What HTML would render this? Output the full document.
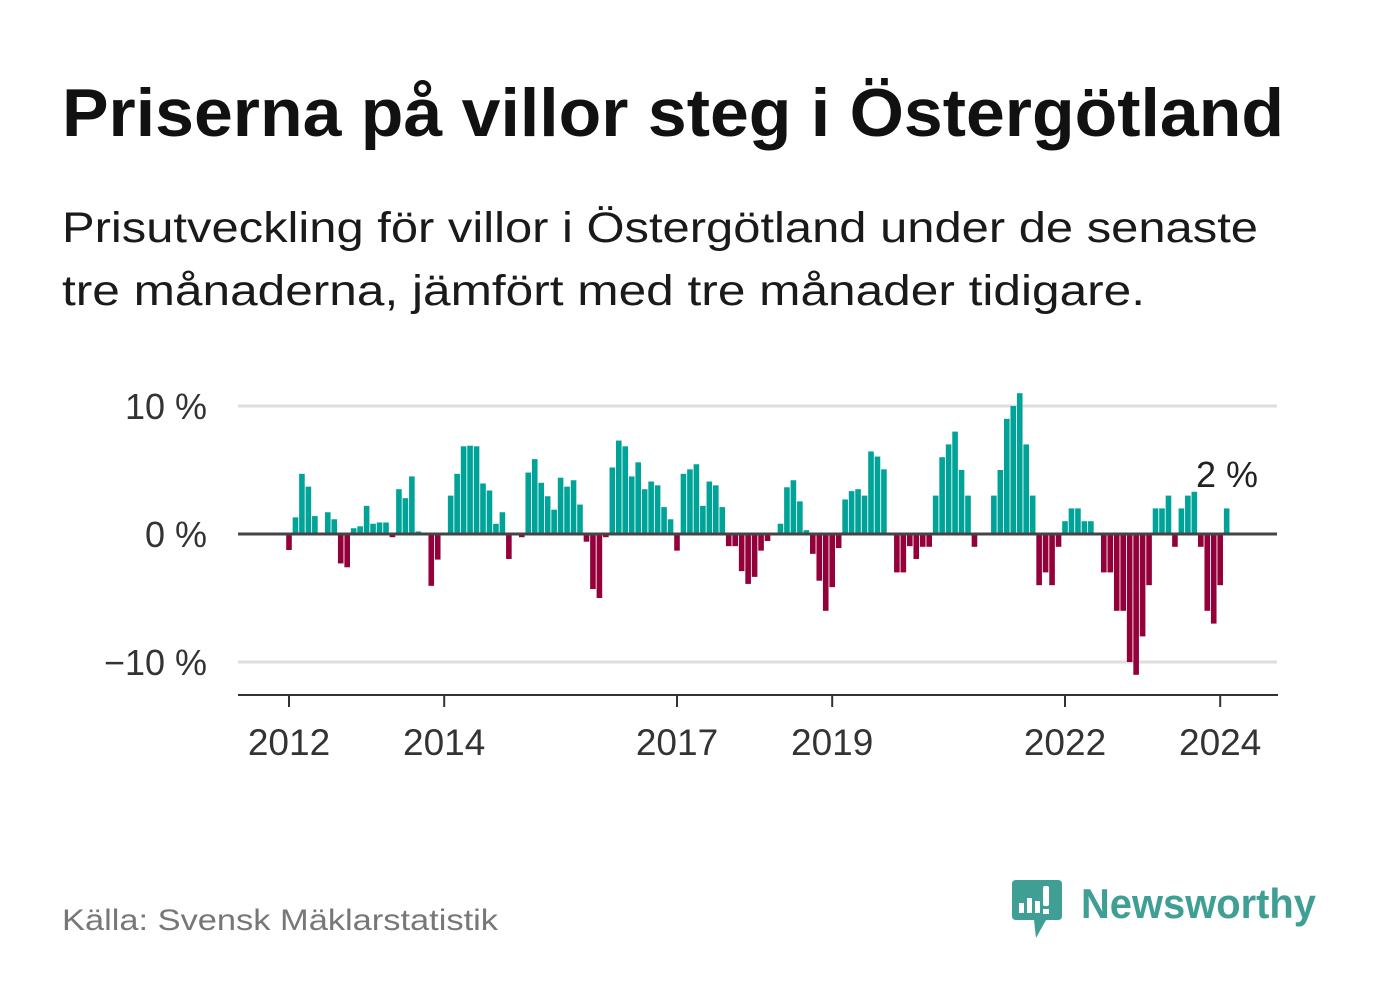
<!DOCTYPE html>
<html><head><meta charset="utf-8"><style>
html,body{margin:0;padding:0;background:#fff;}
svg{display:block;font-family:"Liberation Sans",sans-serif;}
</style></head><body>
<svg id="chart" width="1382" height="999" viewBox="0 0 1382 999">
<text x="62" y="136" font-size="68" font-weight="bold" fill="#111" textLength="1222" lengthAdjust="spacingAndGlyphs">Priserna på villor steg i Östergötland</text>
<text x="62" y="242" font-size="43" fill="#1a1a1a" textLength="1196" lengthAdjust="spacingAndGlyphs">Prisutveckling för villor i Östergötland under de senaste</text>
<text x="62" y="305" font-size="43" fill="#1a1a1a" textLength="1083" lengthAdjust="spacingAndGlyphs">tre månaderna, jämfört med tre månader tidigare.</text>
<g id="grid"></g>
<g id="bars"></g>
<g id="axes"></g>
<text x="1227" y="487" font-size="36" fill="#222" text-anchor="middle">2 %</text>
<text x="62" y="930" font-size="30" fill="#777" textLength="436" lengthAdjust="spacingAndGlyphs">Källa: Svensk Mäklarstatistik</text>
<g>
<path d="M1016 880 H1058 Q1062 880 1062 884 V916 Q1062 920 1058 920 H1046 L1036 938 L1034 920 H1016 Q1012 920 1012 916 V884 Q1012 880 1016 880 Z" fill="#3f9f95"/>
<rect x="1019" y="903" width="5" height="10" fill="#fff"/>
<rect x="1027" y="898" width="5" height="15" fill="#fff"/>
<rect x="1035" y="901" width="5" height="12" fill="#fff"/>
<rect x="1043" y="886" width="6" height="20" rx="2" fill="#fff"/>
<rect x="1043" y="909" width="6" height="5" fill="#fff"/>
<text x="1081" y="918" font-size="42" font-weight="bold" fill="#3f9f95" textLength="235" lengthAdjust="spacingAndGlyphs">Newsworthy</text>
</g>
</svg>
<script>
const values = [-1.25,1.3,4.7,3.7,1.4,0,1.7,1.15,-2.3,-2.6,0.45,0.6,2.2,0.8,0.9,0.9,-0.25,3.5,2.8,4.5,0.2,0,-4.05,-2.0,0,3.0,4.7,6.85,6.9,6.85,3.95,3.4,0.8,1.7,-1.95,0,-0.25,4.8,5.85,4.0,2.95,1.9,4.4,3.7,4.2,2.3,-0.6,-4.3,-5.0,-0.25,5.2,7.3,6.85,4.5,5.6,3.5,4.1,3.8,2.1,1.15,-1.3,4.7,5.05,5.45,2.2,4.1,3.8,2.1,-0.95,-0.95,-2.9,-3.9,-3.35,-1.3,-0.55,0,0.8,3.65,4.2,2.55,0.3,-1.55,-3.65,-6.0,-4.15,-1.1,2.7,3.35,3.5,3.0,6.45,6.05,5.05,0,-3,-3,-0.95,-1.95,-1,-1,3,6,7,8,5,3,-1,0,0,3,5,9,10,11,7,3,-4,-3,-4,-1,1,2,2,1,1,0,-3,-3,-6,-6,-10,-11,-8,-4,2,2,3,-1,2,3,3.3,-1,-6,-7,-4,2];
const startYear = 2012;
const yTicks = [10, 0, -10];
const yTickLabels = ["10 %", "0 %", "\u221210 %"];
const xTicks = [2012, 2014, 2017, 2019, 2022, 2024];
const xTickLabels = ["2012", "2014", "2017", "2019", "2022", "2024"];

const NS = "http://www.w3.org/2000/svg";
function x(year){ return 289 + (year - 2012) * 77.6; }
function y(v){ return 534 - v * 12.8; }
function mk(tag, attrs, parent){ const e = document.createElementNS(NS, tag); for (const k in attrs) e.setAttribute(k, attrs[k]); parent.appendChild(e); return e; }

const grid = document.getElementById('grid');
const bars = document.getElementById('bars');
const axes = document.getElementById('axes');

yTicks.forEach((t, i) => {
  if (t !== 0) {
    const l = mk('line', {x1:238, x2:1277, y1:y(t), y2:y(t), stroke:'#dedede', 'stroke-width':3}, grid);
    
    
  }
  const tx = mk('text', {x:207, y:y(t)+13, 'font-size':36, fill:'#333', 'text-anchor':'end'}, axes);
  tx.textContent = yTickLabels[i];
  
  
});

values.forEach((v, i) => {
  if (v === 0) return;
  const cx = x(startYear + i / 12);
  const top = v > 0 ? y(v) : y(0);
  const h = Math.abs(y(v) - y(0));
  const r = mk('rect', {x:cx - 2.8, y:top, width:5.6, height:h, fill: v > 0 ? '#00a398' : '#93003a'}, bars);
  
  
});

const zl = mk('line', {x1:238, x2:1277, y1:y(0), y2:y(0), stroke:'#444', 'stroke-width':3}, axes);


const xa = mk('line', {x1:238, x2:1278, y1:695, y2:695, stroke:'#333', 'stroke-width':2}, axes);



xTicks.forEach((t, i) => {
  const tk = mk('line', {x1:x(t), x2:x(t), y1:695, y2:707, stroke:'#333', 'stroke-width':2}, axes);
  
  
  const tx = mk('text', {x:x(t), y:755, 'font-size':37, fill:'#333', 'text-anchor':'middle'}, axes);
  tx.textContent = xTickLabels[i];
  
  
});
</script>
</body></html>
